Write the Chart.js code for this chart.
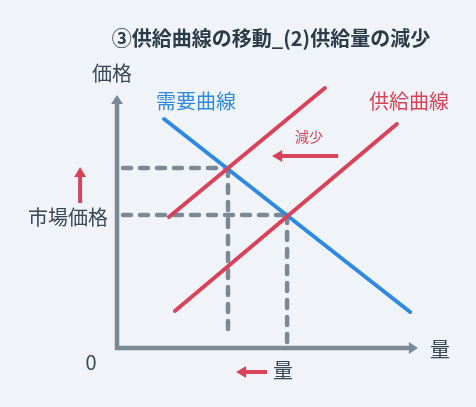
<!DOCTYPE html>
<html lang="ja">
<head>
<meta charset="utf-8">
<script src="https://cdn.jsdelivr.net/npm/chart.js@4.4.1/dist/chart.umd.min.js"></script>
<style>
  html, body { margin: 0; padding: 0; background: #f0f4f8; }
  canvas { display: block; }
</style>
</head>
<body>
<canvas id="grafico" width="476" height="407"></canvas>
<script>
// 曲線の端点（グラフ座標、原点 = 軸の交点）
const demandX = [1.57, 9.77];
const demandY = [9.16, 1.44];
const supplyX = [1.93, 9.33];
const supplyY = [1.48, 8.96];
const supplyNewX = [1.73, 6.93];
const supplyNewY = [5.24, 10.4];
// 均衡点 [量, 価格]
const eqOld = [5.67, 5.32];
const eqNew = [3.7, 7.2];

const RED = '#d8435a';
const BLUE = '#2e8ae0';
const GRAY = '#7b8896';
const FONT = '"Noto Sans CJK JP", "Noto Sans", sans-serif';

const pts = (xs, ys) => xs.map((x, i) => ({ x: x, y: ys[i] }));

const curve = (data, color, order) => ({
    data: data,
    borderColor: color,
    borderWidth: 4,
    borderCapStyle: 'round',
    pointRadius: 0,
    showLine: true,
    clip: false,
    order: order
});

const dashed = (data) => ({
    data: data,
    borderColor: GRAY,
    borderWidth: 4.5,
    borderDash: [8, 9],
    borderCapStyle: 'round',
    pointRadius: 0,
    showLine: true,
    clip: false,
    order: 3
});

function arrow(ctx, x1, y1, x2, y2, color, w, headLen, headW) {
    const a = Math.atan2(y2 - y1, x2 - x1);
    const bx = x2 - headLen * Math.cos(a);
    const by = y2 - headLen * Math.sin(a);
    ctx.strokeStyle = color;
    ctx.lineWidth = w;
    ctx.lineCap = 'butt';
    ctx.beginPath();
    ctx.moveTo(x1, y1);
    ctx.lineTo(bx + Math.cos(a), by + Math.sin(a));
    ctx.stroke();
    ctx.fillStyle = color;
    ctx.beginPath();
    ctx.moveTo(x2, y2);
    ctx.lineTo(bx + headW * Math.sin(a), by - headW * Math.cos(a));
    ctx.lineTo(bx - headW * Math.sin(a), by + headW * Math.cos(a));
    ctx.closePath();
    ctx.fill();
}

function text(ctx, str, x, y, size, color, align, weight) {
    ctx.font = (weight || 'normal') + ' ' + size + 'px ' + FONT;
    ctx.fillStyle = color;
    ctx.textAlign = align || 'center';
    ctx.textBaseline = 'middle';
    ctx.fillText(str, x, y);
}

const diagramPlugin = {
    id: 'diagram',
    beforeDraw(chart) {
        const ctx = chart.ctx;
        ctx.save();
        ctx.fillStyle = '#f0f4f8';
        ctx.fillRect(0, 0, chart.width, chart.height);
        ctx.restore();
    },
    beforeDatasetsDraw(chart) {
        const ctx = chart.ctx;
        const sx = chart.scales.x, sy = chart.scales.y;
        const x0 = sx.getPixelForValue(0), y0 = sy.getPixelForValue(0);
        ctx.save();
        // 軸
        arrow(ctx, x0, y0 + 2, x0, sy.getPixelForValue(10.12), GRAY, 4.5, 9, 6);
        arrow(ctx, x0 - 2, y0, sx.getPixelForValue(10.03), y0, GRAY, 4.5, 9, 6);
        ctx.restore();
    },
    afterDraw(chart) {
        const ctx = chart.ctx;
        const sx = chart.scales.x, sy = chart.scales.y;
        const px = v => sx.getPixelForValue(v);
        const py = v => sy.getPixelForValue(v);
        ctx.save();
        // 移動の矢印
        arrow(ctx, px(7.37), py(7.68), px(5.17), py(7.68), RED, 4, 10, 6);
        arrow(ctx, px(-1.23), py(5.8), px(-1.23), py(7.24), RED, 4, 10, 6);
        arrow(ctx, px(5.0), py(-0.96), px(3.97), py(-0.96), RED, 4, 10, 6);

        text(ctx, '③供給曲線の移動_(2)供給量の減少', 271, 38, 20, '#2c3b48', 'center', 'bold');
        text(ctx, '価格', 112, 73, 20, '#3a4754');
        text(ctx, '需要曲線', 196, 101, 20, BLUE);
        text(ctx, '供給曲線', 409, 101, 20, RED);
        text(ctx, '減少', 309, 137, 14, RED);
        text(ctx, '市場価格', 108, 217, 20, '#3a4754', 'right');
        text(ctx, '0', 91, 362, 20, '#3a4754');
        text(ctx, '量', 440, 349, 20, '#3a4754');
        text(ctx, '量', 283, 370, 20, '#3a4754');
        ctx.restore();
    }
};

new Chart(document.getElementById('grafico'), {
    type: 'scatter',
    data: {
        datasets: [
            curve(pts(supplyNewX, supplyNewY), RED, 1),
            curve(pts(supplyX, supplyY), RED, 1),
            curve(pts(demandX, demandY), BLUE, 2),
            dashed([{ x: 0.2, y: eqNew[1] }, { x: eqNew[0], y: eqNew[1] }]),
            dashed([{ x: 0.2, y: eqOld[1] }, { x: eqOld[0], y: eqOld[1] }]),
            dashed([{ x: eqNew[0], y: eqNew[1] }, { x: eqNew[0], y: 0.44 }]),
            dashed([{ x: eqOld[0], y: eqOld[1] }, { x: eqOld[0], y: 0.05 }])
        ]
    },
    options: {
        responsive: false,
        animation: false,
        layout: { padding: { left: 117, right: 59, top: 98, bottom: 59 } },
        scales: {
            x: { type: 'linear', min: 0, max: 10, display: false },
            y: { type: 'linear', min: 0, max: 10, display: false }
        },
        plugins: {
            legend: { display: false },
            tooltip: { enabled: false }
        }
    },
    plugins: [diagramPlugin]
});
</script>
</body>
</html>
